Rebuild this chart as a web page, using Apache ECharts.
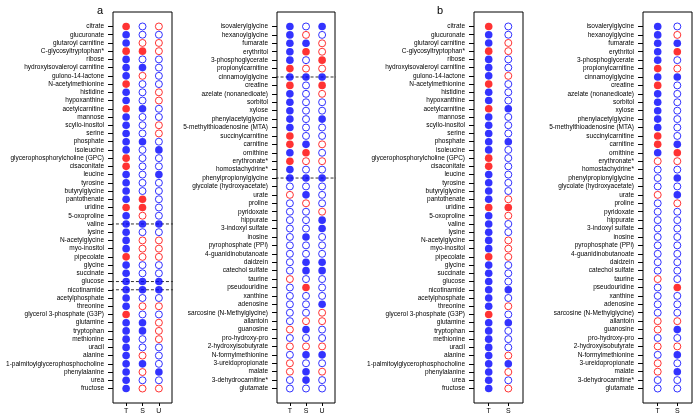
<!DOCTYPE html>
<html><head><meta charset="utf-8">
<script src="https://cdn.jsdelivr.net/npm/echarts@6/dist/echarts.min.js"></script>
<style>html,body{margin:0;padding:0;background:#fff}#c{width:697px;height:419px}</style>
</head><body><div id="c"></div>
<script>
// Codes: B = filled blue, R = filled red, b = open blue, r = open red
const leftNames = ["citrate","glucuronate","glutaroyl carnitine","C-glycosyltryptophan*","ribose","hydroxyisovaleroyl carnitine","gulono-14-lactone","N-acetylmethionine","histidine","hypoxanthine","acetylcarnitine","mannose","scyllo-inositol","serine","phosphate","isoleucine","glycerophosphorylcholine (GPC)","cisaconitate","leucine","tyrosine","butyrylglycine","pantothenate","uridine","5-oxoproline","valine","lysine","N-acetylglycine","myo-inositol","pipecolate","glycine","succinate","glucose","nicotinamide","acetylphosphate","threonine","glycerol 3-phosphate (G3P)","glutamine","tryptophan","methionine","uracil","alanine","1-palmitoylglycerophosphocholine","phenylalanine","urea","fructose"];
const rightNames = ["isovalerylglycine","hexanoylglycine","fumarate","erythritol","3-phosphoglycerate","propionylcarnitine","cinnamoylglycine","creatine","azelate (nonanedioate)","sorbitol","xylose","phenylacetylglycine","5-methylthioadenosine (MTA)","succinylcarnitine","carnitine","ornithine","erythronate*","homostachydrine*","phenylpropionylglycine","glycolate (hydroxyacetate)","urate","proline","pyridoxate","hippurate","3-indoxyl sulfate","inosine","pyrophosphate (PPi)","4-guanidinobutanoate","daidzein","catechol sulfate","taurine","pseudouridine","xanthine","adenosine","sarcosine (N-Methylglycine)","allantoin","guanosine","pro-hydroxy-pro","2-hydroxyisobutyrate","N-formylmethionine","3-ureidopropionate","malate","3-dehydrocarnitine*","glutamate"];

const aLeftT = "RBBRBBBRBBRBBBBBRRBBBBRBBBBBRBBBBBBRBBBBBBBBB".split("");
const aLeftS = "bbrRbBrbbbBbbbBbbbbbbRRrBbrrrbbBBbrbBBbbrBrbr".split("");
const aLeftU = "rbrrbbbbrrbbrrbBbbBbbbbbBbrrrbbBBbrbrrrbbbBbr".split("");

const aRightT = "BBBBBRBRBBBBBRRBRBBbrbbbbbbbbbrbbbbbrbrbrrbb".split("");
const aRightS = "brBRbrBbbbbbbbBRrbBbBrbbbBbbBBbRbbbrBbrBbBBb".split("");
const aRightU = "BbrrRrBRrbbBbbrbrbBbbbrBBbbbBBbbbBrrbbrBbrbb".split("");

const bLeftT = "RBBRBBBRBBRBBBBBRRBBBBRBBBBBRBBBBBBRBBBBBBBBB".split("");
const bLeftS = "bbrrbbrbbbBbbbBbbbbbbrRrbbrrrbbbBbrbBbbbrBrbr".split("");

const bRightT = "BBBBBRBRBBBBBRRBrbbbrbbbbbbbbbrbbbbrrbrbrrbb".split("");
const bRightS = "brBRbrBbbbbbbbBRrbBbBrbbbbbbbbbRbbbrBbrBbBbb".split("");

const aLeftDashed = ["valine","glucose","nicotinamide"];
const aRightDashed = ["cinnamoylglycine","phenylpropionylglycine"];

const colLabels3 = ["T","S","U"];
const colLabels2 = ["T","S"];

const BLUE = "#0000ff", RED = "#ff0000";
function styleFor(code){
  const col = (code === "B" || code === "b") ? BLUE : RED;
  if (code === "B" || code === "R") return {symbolSize: 7.6, itemStyle: {color: col, borderWidth: 0}};
  return {symbolSize: 7, itemStyle: {color: "rgba(255,255,255,0)", borderColor: col, borderWidth: 1}};
}

const panels = [
  {names: leftNames, cols: [aLeftT, aLeftS, aLeftU], labels: colLabels3, dashed: aLeftDashed, left: 113, width: 59, xmin: 0.2, xmax: 3.8, dx: [-0.23, 4.25]},
  {names: rightNames, cols: [aRightT, aRightS, aRightU], labels: colLabels3, dashed: aRightDashed, left: 277, width: 58, xmin: 0.2, xmax: 3.8, dx: [-0.2, 3.9]},
  {names: leftNames, cols: [bLeftT, bLeftS], labels: colLabels2, dashed: [], left: 474, width: 49, xmin: 0.25, xmax: 2.75, dx: [0, 0]},
  {names: rightNames, cols: [bRightT, bRightS], labels: colLabels2, dashed: [], left: 643, width: 49, xmin: 0.25, xmax: 2.75, dx: [0, 0]}
];

const grids = [], xAxes = [], yAxes = [], series = [];
panels.forEach((p, i) => {
  const n = p.names.length;
  const ext = 0.04 * (n - 1);
  const idx = p.names.map((_, k) => k + 1);
  grids.push({left: p.left, top: 12, width: p.width, height: 391, show: true, borderColor: "#000", borderWidth: 1, backgroundColor: "transparent"});
  xAxes.push({
    type: "value", gridIndex: i, min: p.xmin, max: p.xmax, position: "bottom",
    axisLine: {show: false, onZero: false}, splitLine: {show: false},
    axisTick: {show: true, length: 3, customValues: p.labels.map((_, k) => k + 1), lineStyle: {color: "#000", width: 1}},
    axisLabel: {customValues: p.labels.map((_, k) => k + 1), formatter: v => p.labels[Math.round(v) - 1] || "", fontSize: 7, margin: 5, color: "#000", fontFamily: "Liberation Sans"}
  });
  yAxes.push({
    type: "value", gridIndex: i, inverse: true, min: 1 - ext, max: n + ext, position: "left",
    axisLine: {show: false, onZero: false}, splitLine: {show: false},
    axisTick: {show: true, length: 5, customValues: idx, lineStyle: {color: "#000", width: 1}},
    axisLabel: {customValues: idx, formatter: v => p.names[Math.round(v) - 1] || "", fontSize: 6.5, margin: 9, color: "#000", fontFamily: "Liberation Sans"}
  });
  p.dashed.forEach(name => {
    const r = p.names.indexOf(name) + 1;
    series.push({type: "line", xAxisIndex: i, yAxisIndex: i, clip: false, symbol: "none", silent: true, z: 1,
      data: [[p.dx[0], r], [p.dx[1], r]], lineStyle: {color: "#333", width: 1, type: [3, 2]}});
  });
  p.cols.forEach((codes, c) => {
    series.push({
      type: "scatter", xAxisIndex: i, yAxisIndex: i, symbol: "circle", z: 3, silent: true,
      data: codes.map((code, k) => Object.assign({value: [c + 1, k + 1]}, styleFor(code)))
    });
  });
});

const chart = echarts.init(document.getElementById("c"), null, {renderer: "canvas"});
chart.setOption({
  animation: false,
  backgroundColor: "#fff",
  title: [
    {text: "a", left: 92, top: 0, textStyle: {fontSize: 11, fontWeight: "normal", color: "#000", fontFamily: "Liberation Sans"}},
    {text: "b", left: 432, top: 0, textStyle: {fontSize: 11, fontWeight: "normal", color: "#000", fontFamily: "Liberation Sans"}}
  ],
  grid: grids, xAxis: xAxes, yAxis: yAxes, series: series
});
</script></body></html>
